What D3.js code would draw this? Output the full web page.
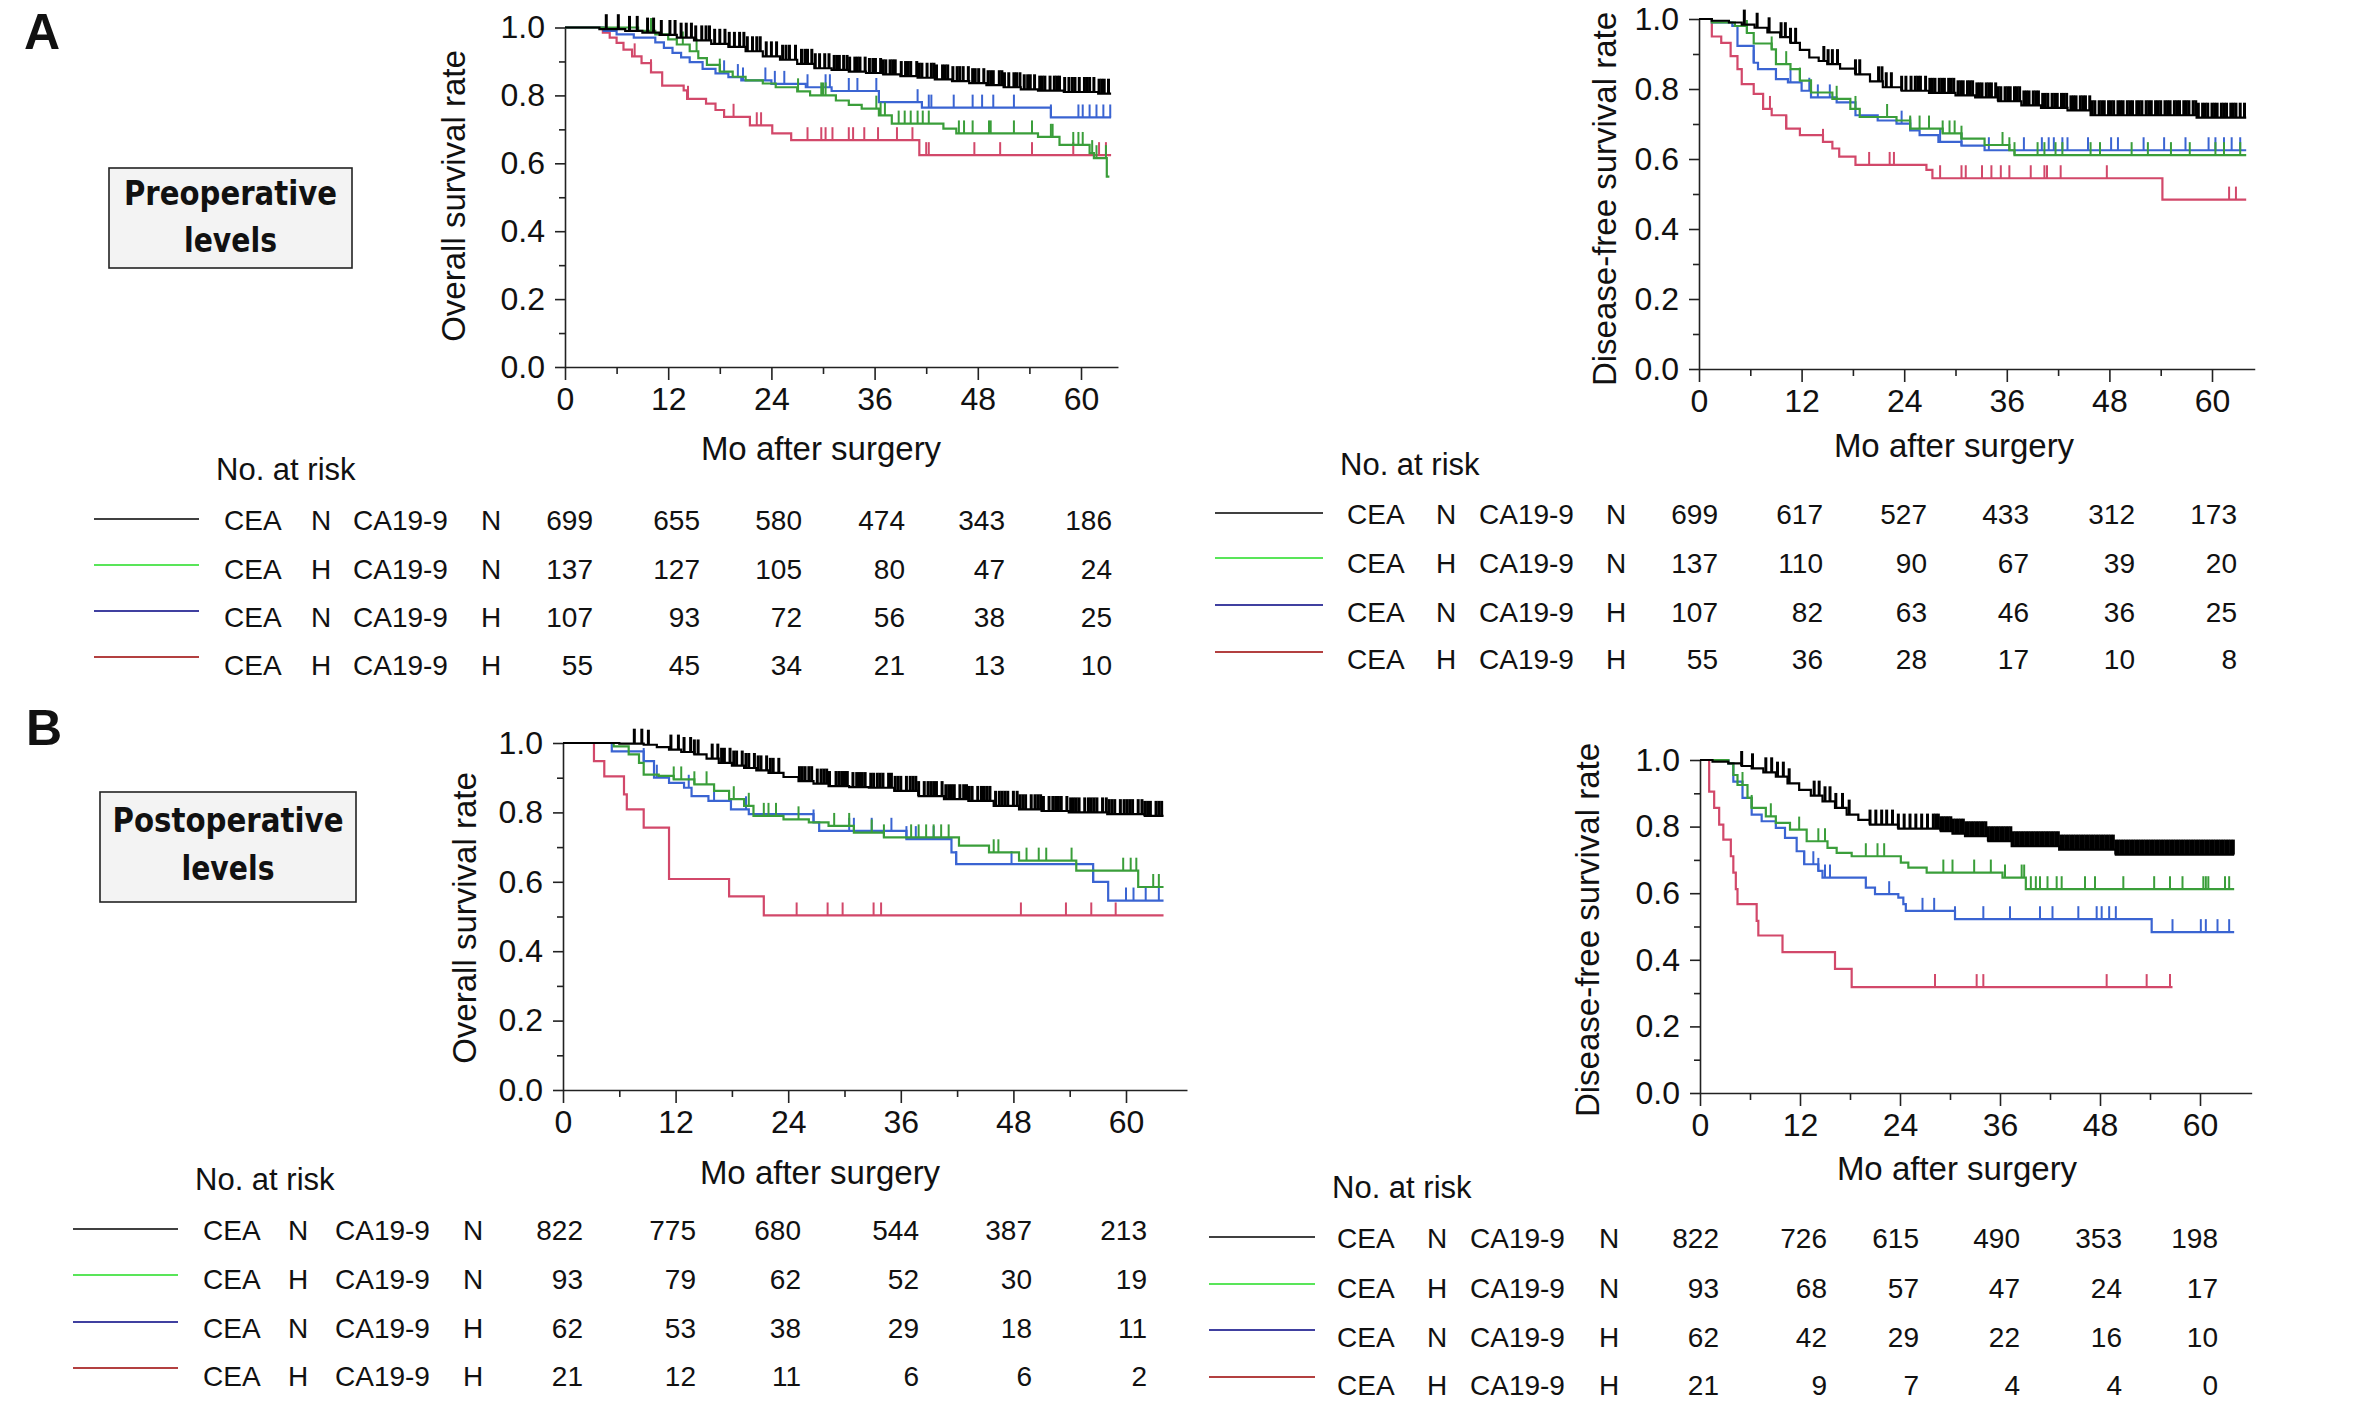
<!DOCTYPE html>
<html><head><meta charset="utf-8">
<script src="https://cdn.jsdelivr.net/npm/d3@7"></script>
<style>body{margin:0;background:#fff}</style>
</head><body><svg id="c" width="2362" height="1404"></svg>
<script>
// ---------------- DATA ----------------
const months = [0, 12, 24, 36, 48, 60];
const minorMonths = [6, 18, 30, 42, 54];
const yMajor = [0, 0.2, 0.4, 0.6, 0.8, 1.0];
const yMinor = [0.1, 0.3, 0.5, 0.7, 0.9];
const groupCEA = ["N", "H", "N", "H"];
const groupCA = ["N", "N", "H", "H"];

const riskPreOS = [[699,655,580,474,343,186],[137,127,105,80,47,24],[107,93,72,56,38,25],[55,45,34,21,13,10]];
const riskPreDFS = [[699,617,527,433,312,173],[137,110,90,67,39,20],[107,82,63,46,36,25],[55,36,28,17,10,8]];
const riskPostOS = [[822,775,680,544,387,213],[93,79,62,52,30,19],[62,53,38,29,18,11],[21,12,11,6,6,2]];
const riskPostDFS = [[822,726,615,490,353,198],[93,68,57,47,24,17],[62,42,29,22,16,10],[21,9,7,4,4,0]];

// Kaplan-Meier steps [month, survival]
const preOS_NN = [[0,1],[4,0.995],[7,0.99],[9,0.985],[11,0.978],[13,0.97],[15,0.962],[17,0.952],[19,0.943],[21,0.93],[23,0.915],[25,0.905],[27,0.893],[29,0.88],[31,0.875],[33,0.87],[35,0.866],[37,0.862],[39,0.857],[41,0.852],[43,0.847],[45,0.842],[47,0.836],[49,0.83],[51,0.824],[53,0.818],[55,0.814],[58,0.81],[62,0.805]];
const preOS_HN = [[0,1],[8.5,0.99],[10.5,0.98],[12,0.965],[13,0.95],[14.5,0.93],[15.5,0.91],[16.5,0.89],[18,0.87],[19.5,0.855],[21,0.844],[23,0.835],[24.5,0.824],[27,0.812],[28.5,0.8],[31.5,0.785],[33,0.772],[34.5,0.761],[36.5,0.741],[38,0.717],[44,0.702],[45.5,0.688],[55,0.678],[57.5,0.654],[61,0.63],[61.5,0.615],[63,0.561]];
const preOS_NH = [[0,1],[4.5,0.99],[6,0.98],[8,0.97],[10.5,0.956],[11.5,0.94],[12.5,0.925],[13.5,0.912],[14.5,0.898],[16,0.878],[17.5,0.865],[19,0.854],[20.5,0.844],[24,0.834],[28,0.824],[31,0.813],[36.5,0.78],[41.5,0.764],[56.5,0.735]];
const preOS_HH = [[0,1],[4.4,0.985],[5.2,0.97],[6,0.955],[6.8,0.935],[7.8,0.915],[8.9,0.895],[10,0.868],[11.3,0.829],[13.8,0.815],[14.2,0.79],[16.4,0.776],[17.5,0.757],[18.5,0.737],[21.5,0.712],[24.1,0.688],[26.3,0.668],[41.2,0.624]];

const preDFS_NN = [[0,1],[1.5,0.995],[3.5,0.99],[5,0.984],[6.5,0.975],[8,0.962],[9.5,0.948],[10.7,0.932],[11.8,0.912],[12.9,0.89],[14,0.88],[15,0.871],[16.5,0.858],[18.3,0.842],[20,0.822],[21.5,0.805],[23.7,0.795],[26.9,0.789],[30,0.782],[32.3,0.776],[35,0.765],[37.7,0.753],[40,0.746],[43.1,0.739],[45.8,0.725],[58.2,0.718]];
const preDFS_HN = [[0,1],[1.5,0.99],[4.2,0.98],[5.6,0.96],[6.4,0.93],[8.5,0.913],[9,0.871],[10.7,0.857],[11.8,0.824],[13.1,0.79],[15.6,0.772],[17.7,0.743],[18.8,0.72],[23.1,0.71],[24.7,0.687],[28.5,0.673],[30.7,0.658],[33.4,0.64],[36.3,0.625],[36.9,0.611]];
const preDFS_NH = [[0,1],[1.5,0.99],[3.9,0.98],[4.5,0.923],[6.4,0.875],[6.9,0.857],[9,0.828],[10.4,0.819],[12,0.795],[13.1,0.776],[16.1,0.762],[18.3,0.725],[20.9,0.71],[23.1,0.701],[24.7,0.682],[25.8,0.668],[28,0.649],[30.7,0.638],[33.4,0.625]];
const preDFS_HH = [[0,1],[1.5,0.95],[2.6,0.932],[3.7,0.894],[4.5,0.857],[5,0.814],[6.4,0.786],[7.5,0.743],[8.5,0.725],[10.2,0.687],[11.8,0.668],[14.5,0.649],[15.6,0.63],[16.4,0.607],[18.3,0.583],[26.6,0.569],[27.3,0.545],[54.2,0.484]];

const postOS_NN = [[0,1],[6,0.998],[8.6,0.995],[10,0.988],[11.3,0.981],[12.6,0.974],[14,0.967],[15.3,0.955],[16.6,0.943],[18,0.935],[19.3,0.928],[20.6,0.921],[21.9,0.914],[23.5,0.902],[25.1,0.89],[26.7,0.883],[28.3,0.876],[30.5,0.873],[32.6,0.871],[35.3,0.862],[37.9,0.847],[40.6,0.838],[43.2,0.833],[45.9,0.819],[48.6,0.809],[51,0.804],[53.9,0.8],[58,0.795],[62,0.79]];
const postOS_HN = [[0,1],[5.4,0.99],[7,0.967],[8.1,0.943],[8.6,0.909],[10.2,0.905],[11.8,0.895],[14,0.881],[16.1,0.862],[17.7,0.838],[19.3,0.819],[20.3,0.79],[23.5,0.78],[26.2,0.771],[28.3,0.761],[31,0.742],[34.2,0.728],[42.2,0.704],[45.4,0.685],[48.6,0.661],[54.7,0.632],[61.3,0.585]];
const postOS_NH = [[0,1],[5.2,0.976],[8.6,0.948],[9.7,0.9],[11.3,0.885],[12.9,0.871],[13.7,0.847],[15.5,0.833],[17.9,0.809],[19.8,0.795],[26.7,0.771],[27.3,0.747],[36.6,0.723],[41.4,0.685],[41.9,0.651],[56.5,0.6],[58.1,0.546]];
const postOS_HH = [[0,1],[3.3,0.948],[4.4,0.904],[6.5,0.852],[6.8,0.809],[8.6,0.756],[11.3,0.608],[17.7,0.558],[21.4,0.503]];

const postDFS_NN = [[0,1],[1.5,0.995],[3.4,0.99],[5,0.982],[6.2,0.975],[7.6,0.963],[9.1,0.95],[10.5,0.93],[11.9,0.91],[13.3,0.893],[14.7,0.876],[16.2,0.856],[17.6,0.836],[19,0.82],[20.4,0.806],[23.8,0.794],[28.9,0.786],[30.3,0.779],[31.8,0.771],[34.6,0.756],[37.4,0.741],[43.1,0.731],[49.9,0.716]];
const postDFS_HN = [[0,1],[3.4,0.99],[4,0.955],[4.5,0.925],[5.7,0.886],[6.2,0.856],[7.9,0.831],[9.1,0.811],[10.8,0.791],[12.8,0.756],[15.3,0.736],[16.4,0.721],[18.2,0.711],[24.1,0.692],[25,0.677],[27.2,0.662],[36.3,0.647],[39.1,0.612]];
const postDFS_NH = [[0,1],[3.4,0.99],[4,0.935],[5.1,0.886],[6.2,0.836],[7.4,0.816],[9.1,0.796],[10.2,0.766],[11.6,0.726],[12.5,0.687],[14.2,0.667],[14.7,0.647],[19.9,0.617],[21,0.597],[23.8,0.587],[24.4,0.567],[24.7,0.547],[30.6,0.522],[54.2,0.483]];
const postDFS_HH = [[0,1],[1.1,0.905],[1.7,0.856],[2.3,0.806],[2.8,0.761],[3.7,0.711],[4,0.662],[4.3,0.612],[4.5,0.567],[6.8,0.517],[7,0.473],[9.9,0.423],[16.2,0.373],[18.2,0.318]];

// last follow-up month of each curve [NN, HN, NH, HH]
const endPreOS = [63.5, 63.3, 63.5, 63.5];
const endPreDFS = [64, 64, 64, 64];
const endPostOS = [64, 64, 64, 64];
const endPostDFS = [64.1, 64.1, 64.1, 56.7];

// censoring marks (months)
const preOS_NN_cens = [4.8,6.2,7.5,8.4,9.6,10.3,11.2,12.2,12.8,13.5,14.1,14.7,15.2,15.9,16.4,16.8,17.4,18.0,18.6,19.1,19.7,20.3,20.8,21.2,21.8,22.3,22.7,23.4,24.0,24.6,25.3,25.7,26.1,26.8,27.5,27.9,28.2,28.7,29.1,29.6,30.2,30.7,31.3,31.6,31.9,32.4,32.8,33.1,33.7,34.0,34.3,34.9,35.4,35.8,36.1,36.7,37.0,37.3,37.8,38.1,38.4,39.1,39.6,39.9,40.2,40.9,41.2,41.5,42.1,42.6,42.9,43.2,43.9,44.2,44.5,45.1,45.6,45.9,46.3,46.9,47.4,47.7,48.1,48.7,49.2,49.5,49.8,50.5,50.8,51.1,51.6,52.2,52.5,52.9,53.4,53.8,54.1,54.6,55.2,55.5,55.8,56.4,56.9,57.2,57.5,58.1,58.6,59.0,59.3,59.8,60.4,60.7,61.0,61.5,62.1,62.4,62.7,63.2];
const preOS_HN_cens = [10,13.7,15.3,18,27.1,29.8,30,30.3,36.2,36.7,37.2,38.8,39.5,40.2,41,41.6,42.3,45.8,46.4,47.4,49.3,49.5,52.2,54.3,56.5,56.7,59.1,59.7,60.2,61.3,61.8,62.9];
const preOS_NH_cens = [18.5,20.1,20.7,23.3,24.4,25.5,28.2,30.3,30.8,33,34,36.2,41,42.3,42.6,45.2,47.4,48.5,49.8,52.2,56.5,59.7,60.2,61,61.8,62.6,63.4];
const preOS_HH_cens = [8.1,10,14.3,19.6,22.3,22.8,28.2,29.8,30.3,31.1,33,33.5,34.8,36.4,38.6,40.4,42,42.3,47.6,50.6,54.3,59.1,62.1,62.9];

const preDFS_NN_cens = [5.3,6.8,8.2,9.6,10.1,10.7,11.3,14.6,15.1,15.6,16.2,18.3,18.8,21.0,21.4,21.9,22.5,23.7,24.2,24.8,25.3,25.6,25.9,26.5,27.0,27.3,27.6,28.1,28.4,28.7,29.2,29.5,29.8,30.3,30.6,30.9,31.4,31.7,32.0,32.5,32.8,33.1,33.6,33.9,34.2,34.7,35.0,35.3,35.8,36.1,36.4,36.9,37.2,37.5,38.0,38.3,38.6,39.1,39.4,39.7,40.2,40.5,40.8,41.3,41.6,41.9,42.4,42.7,43.0,43.5,43.8,44.1,44.6,44.9,45.2,45.7,46.0,46.3,46.8,47.1,47.4,47.9,48.2,48.5,49.0,49.3,49.6,50.1,50.4,50.7,51.2,51.5,51.8,52.3,52.6,52.9,53.4,53.7,54.0,54.5,54.8,55.1,55.6,55.9,56.2,56.7,57.0,57.3,57.8,58.1,58.4,58.9,59.2,59.5,60.0,60.3,60.6,61.1,61.4,61.7,62.2,62.5,62.8,63.3,63.8];
const preDFS_HN_cens = [5.6,8.5,10.2,11.8,13.1,16.1,18.3,22,24.7,25.8,26.9,28.5,29.3,29.9,30.7,35.5,36.3,36.9,39.6,40.4,41.7,42.5,45.8,46.9,50.6,52.5,55.2,57.4,60.4,61.4,63.3];
const preDFS_NH_cens = [6.4,10.7,12.9,13.9,15.3,23.7,24.7,28.2,30.7,33.9,38,40.1,40.9,41.5,42.5,43.1,45.5,48.2,49,52,54.4,56.9,59.6,60.4,61.4,62.3,63.3];
const preDFS_HH_cens = [8.3,10.2,14.5,19.9,22.3,22.8,28.2,30.7,31.2,33.1,34.2,35.3,36.3,38.8,40.4,40.7,42.3,47.7,62,62.8];

const postOS_NN_cens = [7.6,8.4,9.1,11.5,12.3,12.9,13.6,14.0,14.4,15.9,16.5,16.9,17.2,17.8,18.2,18.5,19.1,19.5,19.8,20.4,20.8,21.1,21.7,22.1,22.4,23.0,25.2,25.5,25.8,26.2,26.5,27.1,27.5,27.8,28.1,28.4,29.1,29.4,29.7,30.0,30.3,30.9,31.3,31.6,31.9,32.2,32.8,33.1,33.5,33.8,34.1,34.7,35.0,35.4,35.7,36.0,36.6,37.0,37.3,37.6,37.9,38.5,38.9,39.2,39.5,39.8,40.4,40.8,41.1,41.4,41.7,42.3,42.7,43.0,43.3,43.6,44.2,44.6,44.9,45.2,45.5,46.1,46.5,46.8,47.1,47.4,48.0,48.4,48.7,49.0,49.3,49.9,50.3,50.6,50.9,51.2,51.8,52.2,52.5,52.8,53.1,53.7,54.1,54.4,54.7,55.0,55.6,56.0,56.3,56.6,56.9,57.5,57.9,58.2,58.5,58.8,59.4,59.8,60.1,60.4,60.7,61.3,61.7,62.0,62.3,62.6,63.2,63.5,63.8];
const postOS_HN_cens = [11.8,12.6,14,15.3,18.2,19.8,21.4,21.9,22.7,25.1,28.9,30.5,32.9,34.2,37.1,37.9,38.7,39.5,40.3,41.1,45.9,46.4,49.4,50.7,51.5,54.2,59.7,60.5,61.1,62.9,63.5];
const postOS_NH_cens = [8.6,10,13.4,16.1,19.5,26.7,30.5,31,32.9,35,36.6,37.6,39.5,41.9,47.8,56.5,60,60.8,62.1,63.5];
const postOS_HH_cens = [24.9,28.2,29.8,33.1,33.9,48.8,53.6,56.3,58.9];

const postDFS_NN_cens = [5.0,6.3,7.9,8.6,9.3,10.0,10.7,13.7,14.3,15.0,15.6,16.3,17.1,17.9,20.4,21.1,21.8,22.4,23.1,23.8,24.5,25.2,25.9,26.6,27.3,28.0,28.3,28.6,28.9,29.2,29.5,29.8,30.1,30.4,30.7,31.0,31.3,31.6,31.9,32.2,32.5,32.8,33.1,33.4,33.7,34.0,34.3,34.6,34.9,35.2,35.5,35.8,36.1,36.4,36.7,37.0,37.3,37.6,37.9,38.2,38.5,38.8,39.1,39.4,39.7,40.0,40.3,40.6,40.9,41.2,41.5,41.8,42.1,42.4,42.7,43.0,43.3,43.6,43.9,44.2,44.5,44.8,45.1,45.4,45.7,46.0,46.3,46.6,46.9,47.2,47.5,47.8,48.1,48.4,48.7,49.0,49.3,49.6,49.9,50.2,50.5,50.8,51.1,51.4,51.7,52.0,52.3,52.6,52.9,53.2,53.5,53.8,54.1,54.4,54.7,55.0,55.3,55.6,55.9,56.2,56.5,56.8,57.1,57.4,57.7,58.0,58.3,58.6,58.9,59.2,59.5,59.8,60.1,60.4,60.7,61.0,61.3,61.6,61.9,62.2,62.5,62.8,63.1,63.4,63.7,64.0];
const postDFS_HN_cens = [5.1,6.2,8.5,11.9,14.2,15,19.9,21.3,22.1,29.2,30.3,32.9,34.9,36.6,38.6,38.9,39.7,40.3,40.8,41.7,42.8,43.4,46.2,47.4,50.8,54.5,56.4,57.9,60.4,60.7,61,63,63.5];
const postDFS_NH_cens = [12.5,13.6,14.2,15,15.6,22.7,26.7,28.1,30.6,34,37.2,40.8,42.3,45.4,47.6,48.2,49.1,49.9,56.7,60.1,60.7,62.1,63.5];
const postDFS_HH_cens = [28.2,33.2,34,48.8,53.6,56.4];

// ---------------- STYLE / LAYOUT ----------------
const plotColors = ["#000000", "#3a9e3a", "#3a64d2", "#d2486a"];
const legendColors = ["#000000", "#22dd22", "#000080", "#9a0000"];
const FONT = "'Liberation Sans', Arial, sans-serif";
const BOLD = "'DejaVu Sans', 'Liberation Sans', sans-serif";

const panels = [
  {x0:565, x60:1081, yTop:27.5, yBot:367, xMax:64.3, yTitle:"Overall survival rate", yTX:465, yTY:196, xTX:821, xTY:460,
   steps:[preOS_NN, preOS_HN, preOS_NH, preOS_HH], ends:endPreOS, cens:[preOS_NN_cens, preOS_HN_cens, preOS_NH_cens, preOS_HH_cens]},
  {x0:1699, x60:2212, yTop:19, yBot:369, xMax:65, yTitle:"Disease-free survival rate", yTX:1616, yTY:199, xTX:1954, xTY:457,
   steps:[preDFS_NN, preDFS_HN, preDFS_NH, preDFS_HH], ends:endPreDFS, cens:[preDFS_NN_cens, preDFS_HN_cens, preDFS_NH_cens, preDFS_HH_cens]},
  {x0:563, x60:1126, yTop:743, yBot:1090, xMax:66.5, yTitle:"Overall survival rate", yTX:476, yTY:918, xTX:820, xTY:1184,
   steps:[postOS_NN, postOS_HN, postOS_NH, postOS_HH], ends:endPostOS, cens:[postOS_NN_cens, postOS_HN_cens, postOS_NH_cens, postOS_HH_cens]},
  {x0:1700, x60:2200, yTop:760, yBot:1093, xMax:66.2, yTitle:"Disease-free survival rate", yTX:1599, yTY:930, xTX:1957, xTY:1180,
   steps:[postDFS_NN, postDFS_HN, postDFS_NH, postDFS_HH], ends:endPostDFS, cens:[postDFS_NN_cens, postDFS_HN_cens, postDFS_NH_cens, postDFS_HH_cens]}
];

const tables = [
  {risk:riskPreOS, nrX:216, nrY:480, lx1:94, lx2:199, ly:[519,565,611,657], rowY:[530,579,627,675], ceaX:224, h1X:321, caX:353, h2X:491, numX:[593,700,802,905,1005,1112]},
  {risk:riskPreDFS, nrX:1340, nrY:475, lx1:1215, lx2:1323, ly:[513,558,605,652], rowY:[524,573,622,669], ceaX:1347, h1X:1446, caX:1479, h2X:1616, numX:[1718,1823,1927,2029,2135,2237]},
  {risk:riskPostOS, nrX:195, nrY:1190, lx1:73, lx2:178, ly:[1229,1275,1322,1368], rowY:[1240,1289,1338,1386], ceaX:203, h1X:298, caX:335, h2X:473, numX:[583,696,801,919,1032,1147]},
  {risk:riskPostDFS, nrX:1332, nrY:1198, lx1:1209, lx2:1315, ly:[1237,1284,1330,1377], rowY:[1248,1298,1347,1395], ceaX:1337, h1X:1437, caX:1470, h2X:1609, numX:[1719,1827,1919,2020,2122,2218]}
];

// ---------------- DRAW ----------------
const svg = d3.select("#c");
svg.append("rect").attr("width", 2362).attr("height", 1404).attr("fill", "#fff");

function survAt(steps, t) {
  let s = 1;
  for (const [tt, v] of steps) { if (tt <= t) s = v; else break; }
  return s;
}

panels.forEach(p => {
  const xEnd = p.x0 + (p.x60 - p.x0) * p.xMax / 60;
  const x = d3.scaleLinear().domain([0, p.xMax]).range([p.x0, xEnd]);
  const y = d3.scaleLinear().domain([0, 1]).range([p.yBot, p.yTop]);
  const g = svg.append("g");

  // x axis
  g.append("g").attr("transform", `translate(0,${p.yBot})`)
    .call(d3.axisBottom(x).tickValues(minorMonths).tickSize(7).tickFormat(""))
    .call(s => s.select(".domain").remove());
  const xa = g.append("g").attr("transform", `translate(0,${p.yBot})`)
    .call(d3.axisBottom(x).tickValues(months).tickSize(13).tickSizeOuter(0).tickPadding(7).tickFormat(d3.format("d")));
  xa.attr("font-size", 32).attr("font-family", FONT);

  // y axis
  g.append("g").attr("transform", `translate(${p.x0},0)`)
    .call(d3.axisLeft(y).tickValues(yMinor).tickSize(6).tickFormat(""))
    .call(s => s.select(".domain").remove());
  const ya = g.append("g").attr("transform", `translate(${p.x0},0)`)
    .call(d3.axisLeft(y).tickValues(yMajor).tickSize(10).tickSizeOuter(0).tickPadding(10).tickFormat(d3.format(".1f")));
  ya.attr("font-size", 32).attr("font-family", FONT);

  g.selectAll(".domain, .tick line").attr("stroke", "#222").attr("stroke-width", 1.6);
  g.selectAll(".tick text").attr("fill", "#111");

  // titles
  g.append("text").attr("transform", `translate(${p.yTX},${p.yTY}) rotate(-90)`)
    .attr("text-anchor", "middle").attr("font-family", FONT).attr("font-size", 33).attr("fill", "#111")
    .text(p.yTitle);
  g.append("text").attr("x", p.xTX).attr("y", p.xTY)
    .attr("text-anchor", "middle").attr("font-family", FONT).attr("font-size", 33).attr("fill", "#111")
    .text("Mo after surgery");

  const line = d3.line().x(d => x(d[0])).y(d => y(d[1])).curve(d3.curveStepAfter);
  [3, 2, 1, 0].forEach(i => {
    const st = p.steps[i];
    const pts = st.concat([[p.ends[i], st[st.length - 1][1]]]);
    g.append("path").attr("d", line(pts)).attr("fill", "none")
      .attr("stroke", plotColors[i]).attr("stroke-width", 2.2);
    g.append("g").selectAll("line").data(p.cens[i]).join("line")
      .attr("x1", d => x(d)).attr("x2", d => x(d))
      .attr("y1", d => y(survAt(st, d))).attr("y2", d => y(survAt(st, d)) - (i === 0 ? 15 : 13))
      .attr("stroke", plotColors[i]).attr("stroke-width", i === 0 ? 3 : 2);
  });
});

// at-risk tables
tables.forEach(t => {
  const g = svg.append("g").attr("font-family", FONT).attr("fill", "#111");
  g.append("text").attr("x", t.nrX).attr("y", t.nrY).attr("font-size", 31).text("No. at risk");
  t.risk.forEach((row, r) => {
    g.append("line").attr("x1", t.lx1).attr("x2", t.lx2).attr("y1", t.ly[r]).attr("y2", t.ly[r])
      .attr("stroke", legendColors[r]).attr("stroke-width", 1.6);
    const yy = t.rowY[r];
    g.append("text").attr("x", t.ceaX).attr("y", yy).attr("font-size", 28).text("CEA");
    g.append("text").attr("x", t.h1X).attr("y", yy).attr("font-size", 28).attr("text-anchor", "middle").text(groupCEA[r]);
    g.append("text").attr("x", t.caX).attr("y", yy).attr("font-size", 28).text("CA19-9");
    g.append("text").attr("x", t.h2X).attr("y", yy).attr("font-size", 28).attr("text-anchor", "middle").text(groupCA[r]);
    g.selectAll(null).data(row).join("text")
      .attr("x", (d, i) => t.numX[i]).attr("y", yy).attr("font-size", 28).attr("text-anchor", "end")
      .text(d => d);
  });
});

// panel letters
svg.append("text").attr("x", 24).attr("y", 49).attr("font-family", "'Liberation Sans', Arial, sans-serif")
  .attr("font-weight", "bold").attr("font-size", 50).attr("fill", "#111").text("A");
svg.append("text").attr("x", 26).attr("y", 745).attr("font-family", "'Liberation Sans', Arial, sans-serif")
  .attr("font-weight", "bold").attr("font-size", 50).attr("fill", "#111").text("B");

// boxes
const boxes = [
  {x:109, y:168, w:243, h:100, lines:["Preoperative", "levels"], widths:[213, 93], by:[205, 252]},
  {x:100, y:792, w:256, h:110, lines:["Postoperative", "levels"], widths:[231, 93], by:[832, 880]}
];
boxes.forEach(b => {
  svg.append("rect").attr("x", b.x).attr("y", b.y).attr("width", b.w).attr("height", b.h)
    .attr("fill", "#f3f3f3").attr("stroke", "#222").attr("stroke-width", 1.6);
  b.lines.forEach((s, i) => {
    svg.append("text").attr("x", b.x + b.w / 2).attr("y", b.by[i]).attr("text-anchor", "middle")
      .attr("font-family", BOLD).attr("font-weight", "bold").attr("font-size", 33).attr("fill", "#111")
      .attr("textLength", b.widths[i]).attr("lengthAdjust", "spacingAndGlyphs").text(s);
  });
});
</script>
</body></html>
